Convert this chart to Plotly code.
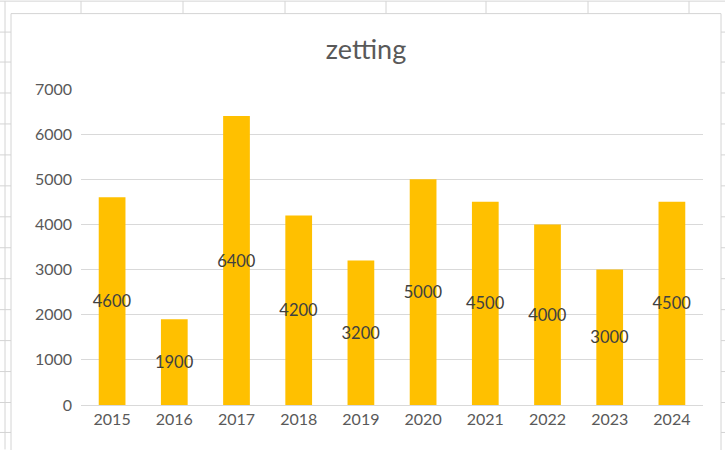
import plotly.graph_objects as go

years = ["2015", "2016", "2017", "2018", "2019", "2020", "2021", "2022", "2023", "2024"]
values = [4600, 1900, 6400, 4200, 3200, 5000, 4500, 4000, 3000, 4500]
y_ticks = [0, 1000, 2000, 3000, 4000, 5000, 6000, 7000]

W, H = 725, 450
L, R, T, B = 81, 22, 89, 44.5
PW, PH = W - L - R, H - T - B

def px(x):
    return (x - L) / PW

def py(y):
    return (H - B - y) / PH

FONT = "Lato, Carlito, Liberation Sans, Arial, sans-serif"

fig = go.Figure()
fig.add_trace(go.Bar(
    x=years, y=values,
    marker=dict(color="#FFC000", line=dict(width=0)),
    width=0.43,
    text=[str(v) for v in values],
    textposition="inside",
    insidetextanchor="middle",
    textangle=0,
    constraintext="none",
    textfont=dict(family=FONT, size=16.5, color="#404040"),
    hoverinfo="x+y",
))

grid_col = "#d9d9d9"
sheet_col = "#d4d4d4"
shapes = []
# chart area border
shapes.append(dict(type="rect", xref="paper", yref="paper",
                   x0=px(11), x1=px(721), y0=py(13.5), y1=py(470),
                   line=dict(color=sheet_col, width=1), fillcolor="rgba(0,0,0,0)", layer="below"))
# spreadsheet lines (background)
shapes.append(dict(type="line", xref="paper", yref="paper", x0=px(0), x1=px(725), y0=py(1), y1=py(1),
                   line=dict(color=sheet_col, width=1)))
for cx in [81, 183, 285, 386, 486, 588, 689]:
    shapes.append(dict(type="line", xref="paper", yref="paper", x0=px(cx), x1=px(cx), y0=py(1), y1=py(13.5),
                       line=dict(color=sheet_col, width=1)))
shapes.append(dict(type="line", xref="paper", yref="paper", x0=px(5), x1=px(5), y0=py(1), y1=py(450),
                   line=dict(color=sheet_col, width=1)))
for ry in [32, 62, 93, 124, 155, 186, 217, 248, 279, 310, 341, 372, 403, 433]:
    shapes.append(dict(type="line", xref="paper", yref="paper", x0=px(0), x1=px(11), y0=py(ry), y1=py(ry),
                       line=dict(color=sheet_col, width=1)))
    shapes.append(dict(type="line", xref="paper", yref="paper", x0=px(721), x1=px(725), y0=py(ry), y1=py(ry),
                       line=dict(color=sheet_col, width=1)))

fig.update_layout(
    width=W, height=H,
    margin=dict(l=L, r=R, t=T, b=B, pad=0),
    paper_bgcolor="white", plot_bgcolor="white",
    showlegend=False,
    title=dict(text="zetting", x=366 / W, xref="container", xanchor="center",
               y=1 - 50 / H, yref="container", yanchor="middle",
               font=dict(family=FONT, size=27, color="#595959")),
    xaxis=dict(showgrid=False, showline=True, linecolor=grid_col, linewidth=1,
               ticks="", tickfont=dict(family=FONT, size=16, color="#595959"),
               fixedrange=True),
    yaxis=dict(range=[0, 7000], tickvals=y_ticks, ticktext=[str(v) for v in y_ticks],
               showgrid=True, gridcolor=grid_col, gridwidth=1, zeroline=False,
               showline=False, ticks="", ticklabelstandoff=8,
               tickfont=dict(family=FONT, size=16, color="#595959"), fixedrange=True),
    shapes=shapes,
)

fig.write_html("out.html", config={"displayModeBar": False},
               post_script="document.body.style.margin='0';document.body.style.overflow='hidden';")
